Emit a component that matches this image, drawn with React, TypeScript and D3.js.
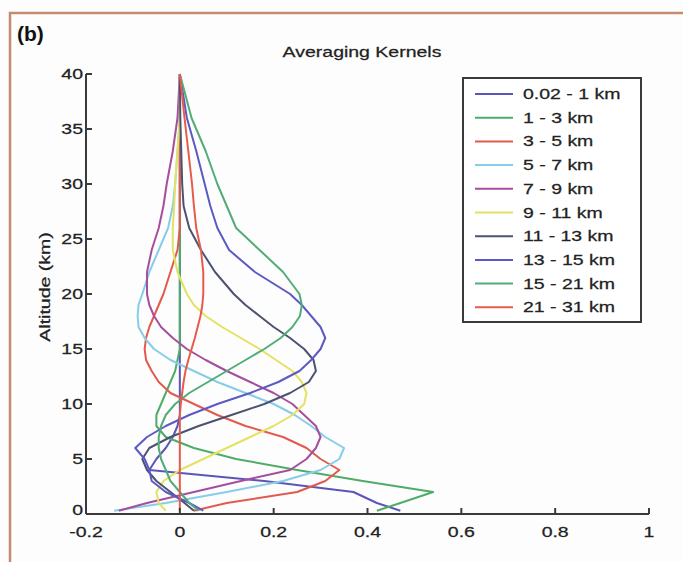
import React from "react";
import * as d3 from "d3";

const ALT = [0.3, 1, 2, 3, 4, 5, 6, 7, 8, 9, 10, 11, 12, 13, 14, 15, 16, 17, 18, 19, 20, 22, 24, 26, 28, 30, 33, 36, 40];

const SERIES_NAMES = ["0.02 - 1 km", "1 - 3 km", "3 - 5 km", "5 - 7 km", "7 - 9 km", "9 - 11 km", "11 - 13 km", "13 - 15 km", "15 - 21 km", "21 - 31 km"];
const SERIES_COLORS = ["#5a56b8", "#4fac68", "#e25a4e", "#86cde8", "#a64e9e", "#e4e262", "#4c5272", "#5c5ac2", "#52ac78", "#e65c4a"];

const K1 = [0.47, 0.42, 0.37, 0.18, -0.065, -0.05, -0.03, -0.015, -0.005, 0, 0, 0, 0, 0, 0, 0, 0, 0, 0, 0, 0, 0, 0, 0, 0, 0, 0, 0, 0];
const K2 = [0.42, 0.47, 0.54, 0.39, 0.25, 0.12, 0.03, -0.03, -0.05, -0.05, -0.04, -0.03, -0.02, -0.01, -0.005, 0, 0, 0, 0, 0, 0, 0, 0, 0, 0, 0, 0, 0, 0];
const K3 = [0.03, 0.1, 0.25, 0.31, 0.34, 0.3, 0.27, 0.22, 0.14, 0.08, 0.03, -0.02, -0.045, -0.06, -0.072, -0.075, -0.072, -0.065, -0.055, -0.045, -0.035, -0.02, -0.005, 0, 0, 0, 0, 0, 0];
const K4 = [-0.14, -0.03, 0.1, 0.22, 0.3, 0.34, 0.35, 0.31, 0.28, 0.245, 0.2, 0.14, 0.08, 0.03, -0.02, -0.055, -0.075, -0.088, -0.09, -0.088, -0.08, -0.065, -0.045, -0.025, -0.015, -0.01, -0.005, 0, 0];
const K5 = [-0.13, -0.07, 0.03, 0.13, 0.235, 0.27, 0.29, 0.3, 0.29, 0.265, 0.24, 0.2, 0.15, 0.1, 0.055, 0.015, -0.015, -0.04, -0.055, -0.065, -0.07, -0.07, -0.06, -0.045, -0.035, -0.028, -0.015, -0.005, 0];
const K6 = [-0.03, -0.045, -0.05, -0.035, 0.0, 0.05, 0.1, 0.15, 0.2, 0.24, 0.265, 0.27, 0.26, 0.24, 0.205, 0.17, 0.13, 0.09, 0.055, 0.03, 0.015, -0.005, -0.015, -0.015, -0.012, -0.01, -0.005, 0, 0];
const K7 = [0.03, 0.01, -0.02, -0.05, -0.07, -0.08, -0.065, -0.02, 0.04, 0.11, 0.18, 0.235, 0.275, 0.29, 0.285, 0.265, 0.235, 0.2, 0.17, 0.14, 0.115, 0.075, 0.045, 0.02, 0.008, 0.005, 0.003, 0.001, 0];
const K8 = [0.05, 0.02, -0.03, -0.06, -0.065, -0.075, -0.095, -0.07, -0.03, 0.02, 0.08, 0.15, 0.21, 0.255, 0.28, 0.3, 0.31, 0.3, 0.28, 0.26, 0.235, 0.16, 0.105, 0.08, 0.065, 0.053, 0.035, 0.015, 0];
const K9 = [0.04, 0.02, 0.0, -0.02, -0.03, -0.04, -0.045, -0.045, -0.04, -0.03, -0.01, 0.02, 0.06, 0.1, 0.14, 0.18, 0.215, 0.24, 0.256, 0.26, 0.255, 0.22, 0.17, 0.12, 0.1, 0.08, 0.055, 0.025, 0];
const K10 = [0, 0, 0, 0, 0, 0, 0, 0, 0, 0, 0.002, 0.005, 0.008, 0.012, 0.018, 0.025, 0.032, 0.038, 0.044, 0.048, 0.05, 0.05, 0.045, 0.035, 0.03, 0.026, 0.018, 0.01, 0];

const KERNELS = [K1, K2, K3, K4, K5, K6, K7, K8, K9, K10];

const X_TICKS = [-0.2, 0, 0.2, 0.4, 0.6, 0.8, 1];
const X_TICK_LABELS = ["-0.2", "0", "0.2", "0.4", "0.6", "0.8", "1"];
const Y_TICKS = [0, 5, 10, 15, 20, 25, 30, 35, 40];

const TITLE = "Averaging Kernels";
const Y_LABEL = "Altitude (km)";
const PANEL = "(b)";

const FONT = "'Liberation Sans', Arial, sans-serif";
const SX = 1.3;

function Stretched({ x, y, anchor, size, children, rotate = 0, fill = "#222", weight = "normal" }: any) {
  return (
    <g transform={`translate(${x},${y}) rotate(${rotate}) scale(${SX},1)`}>
      <text x={0} y={0} textAnchor={anchor} fontSize={size} fontFamily={FONT} fill={fill} fontWeight={weight} stroke={fill} strokeWidth={0.25}>
        {children}
      </text>
    </g>
  );
}

export default function App() {
  const W = 683, H = 562;
  const x = d3.scaleLinear().domain([-0.2, 1]).range([86, 649]);
  const y = d3.scaleLinear().domain([0, 40]).range([514, 74]);
  const line = d3.line<[number, number]>().x((d) => x(d[0])).y((d) => y(d[1])).curve(d3.curveLinear);

  const legendX = 463, legendY = 78, legendW = 178, legendH = 244;
  const rowH = 23.7;

  return (
    <svg width={W} height={H} style={{ position: "absolute", left: 0, top: 0, background: "#fff" }}>
      <rect x={0} y={0} width={W} height={H} fill="#fdfdfd" />
      {/* frame */}
      <line x1={9} y1={13} x2={W} y2={13} stroke="#c68a6e" strokeWidth={2.5} />
      <line x1={10} y1={12} x2={10} y2={H} stroke="#c68a6e" strokeWidth={2.5} />

      <text x={17} y={41} fontSize={21} fontWeight="bold" fontFamily={FONT} fill="#111">{PANEL}</text>
      <Stretched x={362} y={57} anchor="middle" size={15}>{TITLE}</Stretched>

      {/* curves */}
      {KERNELS.map((k, i) => (
        <path key={i} d={line(k.map((v, j) => [v, ALT[j]] as [number, number])) || ""} fill="none" stroke={SERIES_COLORS[i]} strokeWidth={2} strokeLinejoin="round" />
      ))}

      {/* axes */}
      <line x1={x(-0.2)} y1={y(0)} x2={x(1)} y2={y(0)} stroke="#3a3a3a" strokeWidth={2} />
      <line x1={x(-0.2)} y1={y(0)} x2={x(-0.2)} y2={y(40)} stroke="#3a3a3a" strokeWidth={2} />
      {X_TICKS.map((t, i) => (
        <g key={"xt" + i}>
          <line x1={x(t)} x2={x(t)} y1={y(0)} y2={y(0) - 6} stroke="#3a3a3a" strokeWidth={2} />
          <Stretched x={x(t)} y={537} anchor="middle" size={15}>{X_TICK_LABELS[i]}</Stretched>
        </g>
      ))}
      {Y_TICKS.map((t, i) => (
        <g key={"yt" + i}>
          <line x1={x(-0.2)} x2={x(-0.2) + 6} y1={y(t)} y2={y(t)} stroke="#3a3a3a" strokeWidth={2} />
          <Stretched x={83} y={y(t) + (t === 0 ? 1 : 5)} anchor="end" size={15}>{String(t)}</Stretched>
        </g>
      ))}
      <Stretched x={50} y={287} anchor="middle" size={15} rotate={-90}>{Y_LABEL}</Stretched>

      {/* legend */}
      <rect x={legendX} y={legendY} width={legendW} height={legendH} fill="#fff" stroke="#3a3a3a" strokeWidth={2} />
      {SERIES_NAMES.map((n, i) => (
        <g key={"lg" + i}>
          <line x1={475} x2={513} y1={94 + i * rowH} y2={94 + i * rowH} stroke={SERIES_COLORS[i]} strokeWidth={2} />
          <Stretched x={523} y={94 + i * rowH + 5} anchor="start" size={15}>{n}</Stretched>
        </g>
      ))}
    </svg>
  );
}
